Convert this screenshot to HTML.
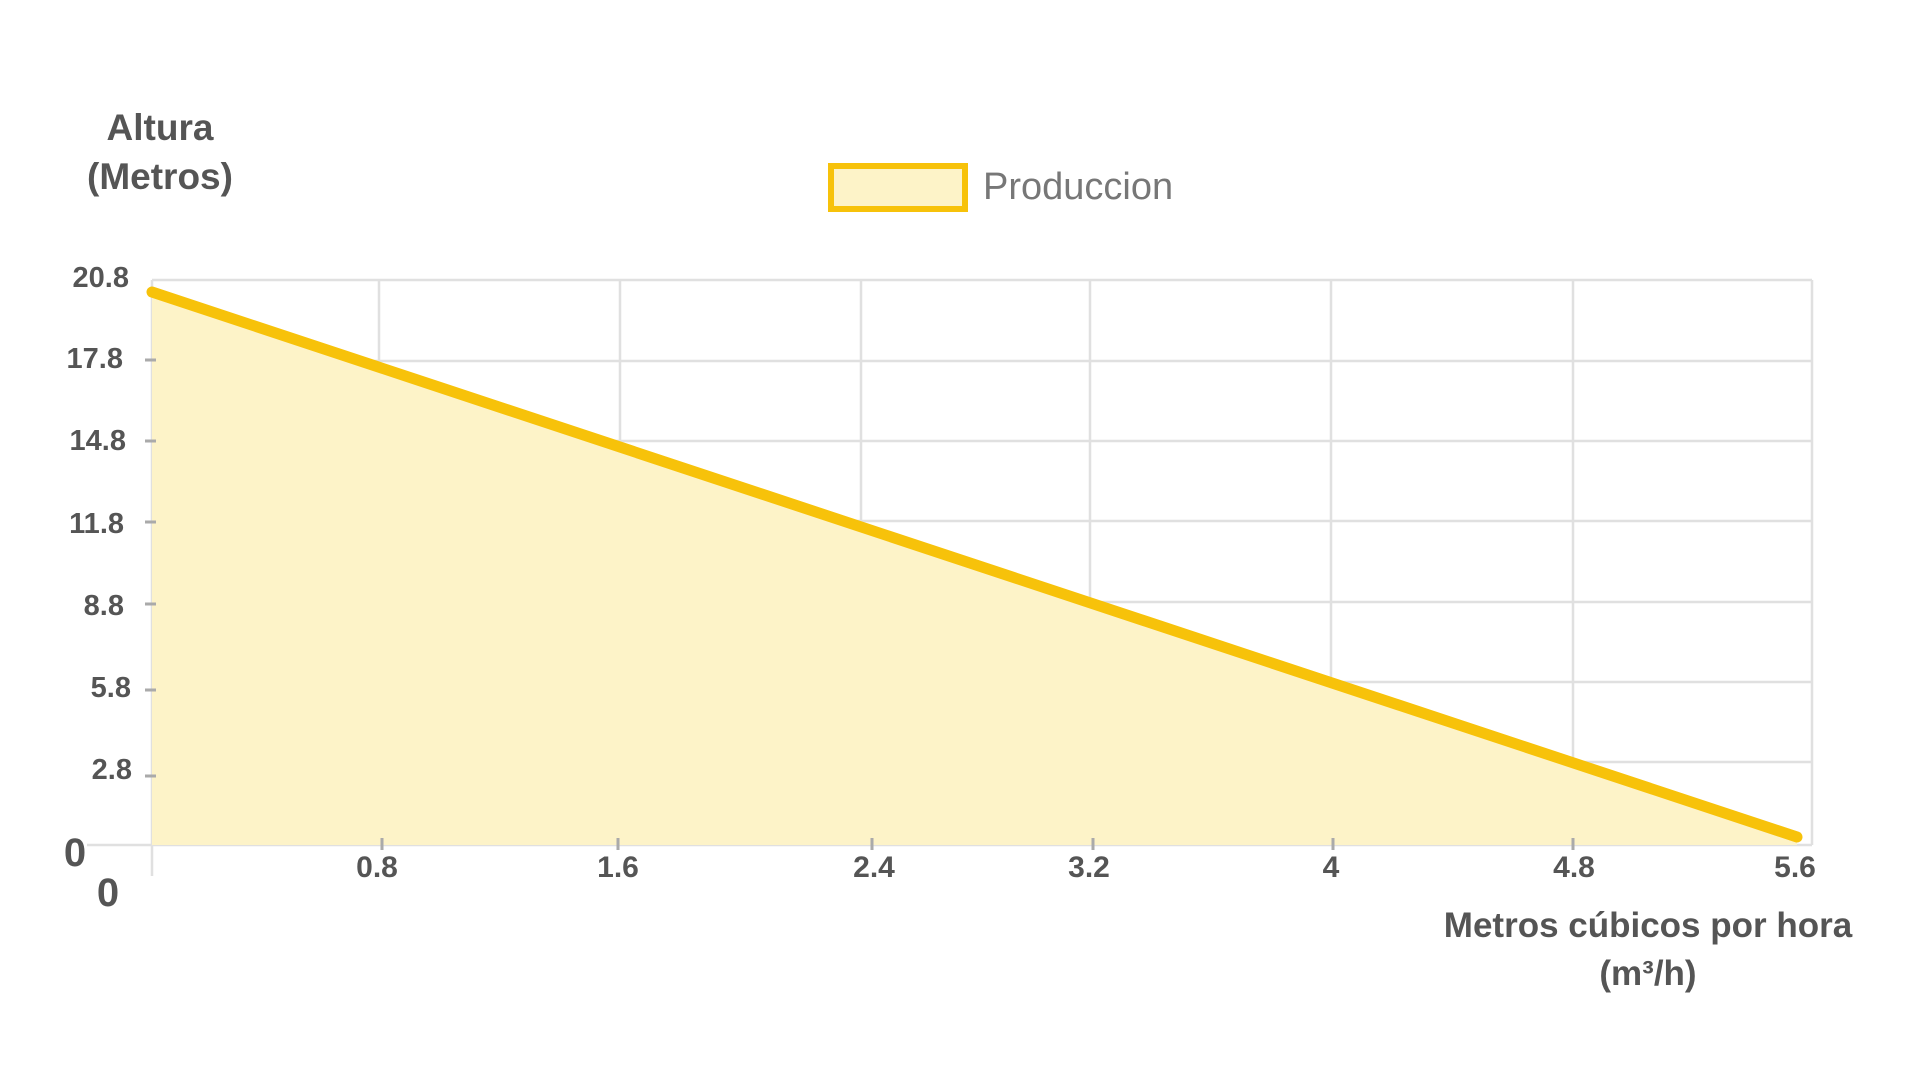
<!DOCTYPE html>
<html><head><meta charset="utf-8"><style>
html,body{margin:0;padding:0;background:#fff;width:1920px;height:1080px;overflow:hidden}
svg{display:block}
text{font-family:"Liberation Sans",Arial,sans-serif;fill:#555;font-weight:bold}
</style></head><body>
<svg width="1920" height="1080" viewBox="0 0 1920 1080">
<g stroke="#e0e0e0" stroke-width="2.5" fill="none">
<line x1="152" y1="280" x2="1812" y2="280"/>
<line x1="152" y1="361" x2="1812" y2="361"/>
<line x1="152" y1="441" x2="1812" y2="441"/>
<line x1="152" y1="521" x2="1812" y2="521"/>
<line x1="152" y1="602" x2="1812" y2="602"/>
<line x1="152" y1="682" x2="1812" y2="682"/>
<line x1="152" y1="762" x2="1812" y2="762"/>
<line x1="87" y1="845" x2="1812" y2="845"/>
<line x1="152" y1="280" x2="152" y2="876"/>
<line x1="379" y1="280" x2="379" y2="845"/>
<line x1="620" y1="280" x2="620" y2="845"/>
<line x1="861" y1="280" x2="861" y2="845"/>
<line x1="1090" y1="280" x2="1090" y2="845"/>
<line x1="1331" y1="280" x2="1331" y2="845"/>
<line x1="1573" y1="280" x2="1573" y2="845"/>
<line x1="1812" y1="280" x2="1812" y2="845"/>
</g>
<polygon points="152,292 1797,837 1797,845 152,845" fill="#fdf3c8"/>
<line x1="152" y1="292" x2="1797" y2="837" stroke="#f7c20a" stroke-width="11" stroke-linecap="round"/>
<g stroke="#aaa" stroke-width="3">
<line x1="145" y1="360" x2="156" y2="360"/><line x1="145" y1="441" x2="156" y2="441"/>
<line x1="145" y1="522" x2="156" y2="522"/><line x1="145" y1="604" x2="156" y2="604"/>
<line x1="145" y1="690" x2="156" y2="690"/><line x1="145" y1="776" x2="156" y2="776"/>
<line x1="382" y1="838" x2="382" y2="850"/><line x1="618" y1="838" x2="618" y2="850"/>
<line x1="872" y1="838" x2="872" y2="850"/><line x1="1093" y1="838" x2="1093" y2="850"/>
<line x1="1333" y1="838" x2="1333" y2="850"/><line x1="1573" y1="838" x2="1573" y2="850"/>
</g>
<g font-size="29" text-anchor="end">
<text x="129" y="287">20.8</text><text x="123" y="368">17.8</text>
<text x="126" y="450">14.8</text><text x="124" y="533">11.8</text>
<text x="124" y="615">8.8</text><text x="131" y="697">5.8</text>
<text x="132" y="779">2.8</text>
</g>
<g font-size="30" text-anchor="middle">
<text x="377" y="877">0.8</text><text x="618" y="877">1.6</text>
<text x="874" y="877">2.4</text><text x="1089" y="877">3.2</text>
<text x="1331" y="877">4</text><text x="1574" y="877">4.8</text>
<text x="1795" y="877">5.6</text>
</g>
<text x="75" y="866" font-size="40" text-anchor="middle">0</text>
<text x="108" y="906" font-size="40" text-anchor="middle">0</text>
<text x="160" y="140" font-size="37" text-anchor="middle">Altura</text>
<text x="160" y="189" font-size="37" text-anchor="middle">(Metros)</text>
<text x="1648" y="937" font-size="35" text-anchor="middle">Metros cúbicos por hora</text>
<text x="1648" y="985" font-size="35" text-anchor="middle">(m³/h)</text>
<rect x="831" y="166" width="134" height="43" fill="#fdf3c8" stroke="#f7c20a" stroke-width="6"/>
<text x="983" y="199" font-size="38" style="font-weight:normal;fill:#777">Produccion</text>
</svg>
</body></html>
